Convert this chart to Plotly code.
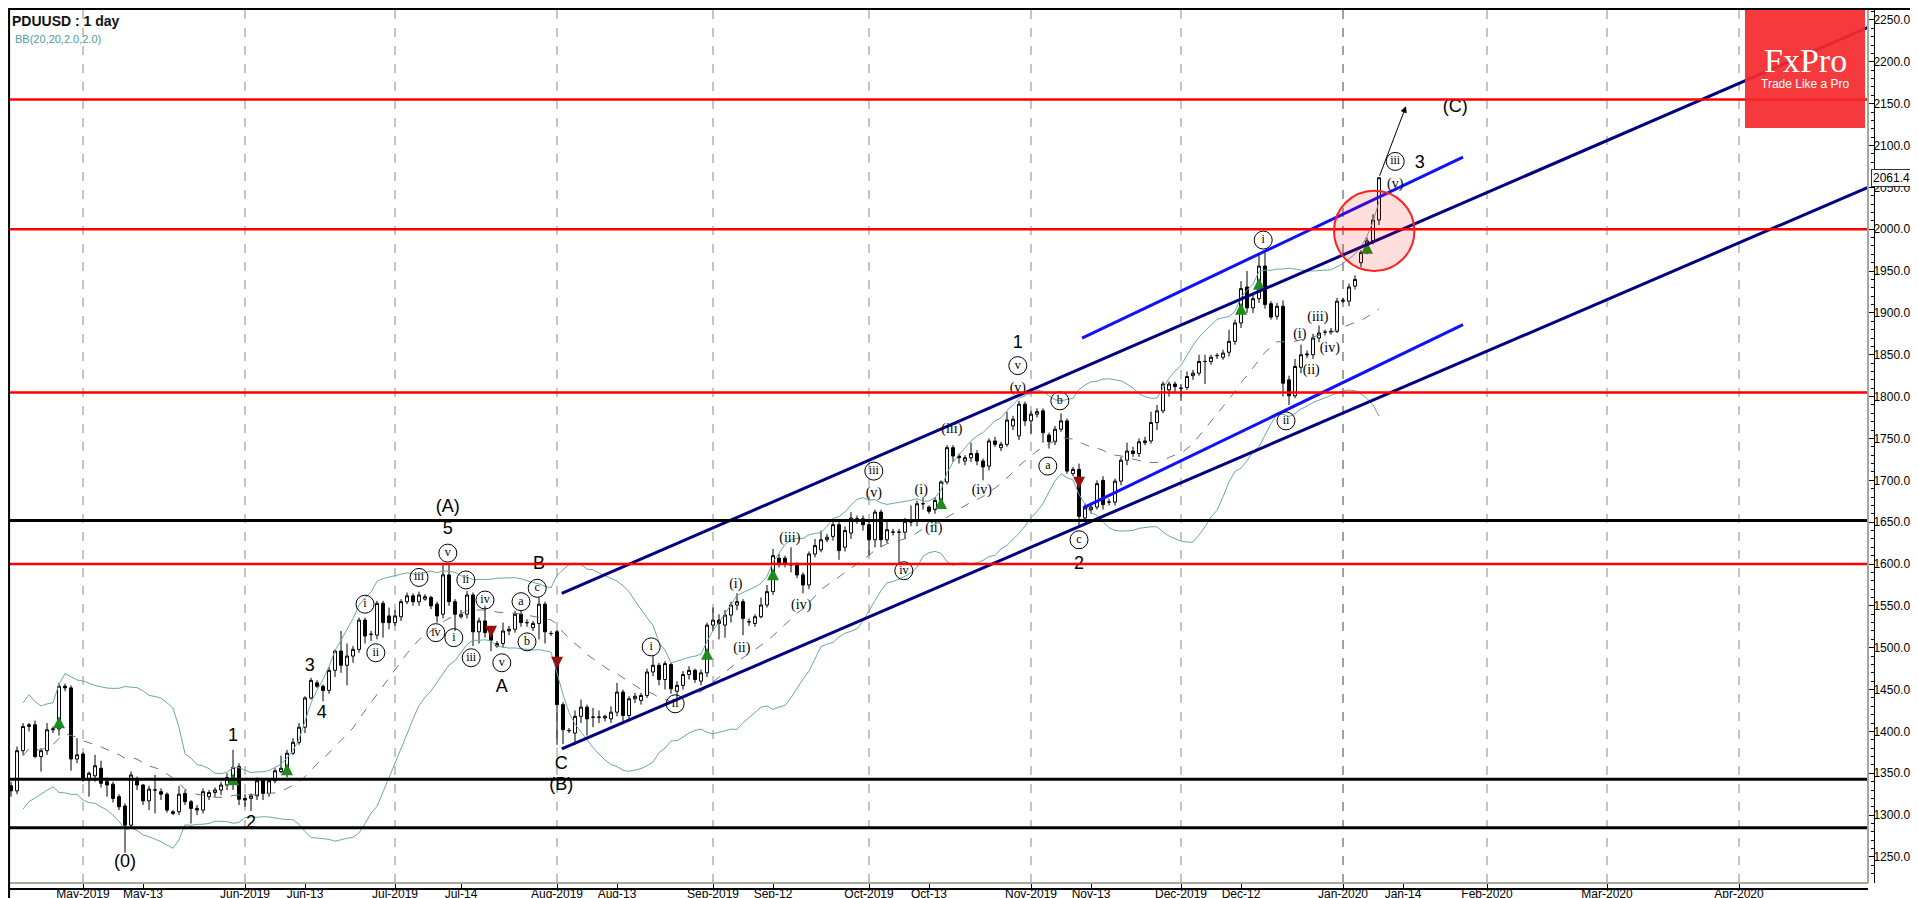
import pandas as pd
import numpy as np
import plotly.graph_objects as go

# ---------------- data ----------------
symbol_title = "PDUUSD : 1 day"
indicator_title = "BB(20,20,2.0,2.0)"
first_session = "2019-04-17"
last_session = "2020-01-09"
future_end = "2020-04-30"

opens = [1335,1329,1377,1406,1408,1370,1377,1402,1403,1454,
         1452,1367,1373,1342,1347,1356,1340,1337,1322,1311,
         1288,1341,1336,1317,1330,1328,1325,1304,1304,1326,
         1316,1308,1306,1322,1327,1330,1336,1345,1358,1320,
         1320,1323,1341,1326,1341,1352,1356,1374,1387,1405,
         1440,1458,1454,1449,1473,1496,1479,1490,1498,1533,
         1516,1515,1553,1538,1530,1537,1555,1562,1555,1558,
         1560,1552,1540,1587,1555,1537,1540,1563,1519,1532,
         1517,1502,1505,1520,1522,1540,1530,1524,1529,1552,
         1517,1519,1432,1401,1398,1418,1429,1417,1417,1416,
         1415,1423,1447,1419,1439,1437,1443,1471,1479,1462,
         1480,1448,1455,1468,1473,1460,1470,1527,1533,1527,
         1539,1551,1555,1531,1529,1537,1551,1567,1607,1607,
         1600,1599,1587,1575,1612,1617,1629,1633,1647,1620,
         1637,1654,1654,1647,1629,1662,1629,1638,1638,1638,
         1650,1651,1672,1668,1665,1676,1698,1739,1729,1723,
         1727,1732,1723,1717,1747,1739,1743,1765,1753,1791,
         1771,1779,1783,1754,1746,1761,1771,1708,1713,1655,
         1665,1668,1700,1674,1674,1699,1724,1735,1732,1745,
         1747,1769,1783,1808,1815,1810,1811,1825,1828,1842,
         1842,1849,1847,1853,1866,1888,1931,1906,1917,1956,
         1911,1896,1908,1820,1801,1835,1851,1850,1870,1877,
         1877,1878,1914,1914,1932,1960,1972,1986,2011]
highs = [1340,1382,1410,1410,1413,1380,1410,1406,1458,1457,
         1455,1392,1375,1352,1372,1365,1345,1340,1325,1314,
         1352,1346,1337,1335,1348,1332,1327,1306,1335,1330,
         1318,1312,1332,1330,1333,1340,1350,1378,1362,1325,
         1326,1345,1344,1344,1356,1371,1378,1392,1410,1442,
         1464,1461,1456,1477,1498,1520,1505,1502,1536,1536,
         1520,1556,1556,1548,1545,1558,1566,1565,1567,1564,
         1562,1555,1599,1599,1558,1545,1568,1566,1536,1550,
         1520,1508,1530,1526,1544,1544,1534,1532,1560,1555,
         1520,1521,1435,1404,1425,1438,1432,1428,1425,1420,
         1430,1458,1450,1442,1446,1446,1475,1490,1482,1484,
         1482,1460,1472,1478,1475,1474,1530,1548,1540,1545,
         1555,1565,1558,1535,1540,1560,1575,1618,1612,1610,
         1620,1602,1590,1615,1630,1640,1636,1650,1650,1645,
         1662,1658,1658,1650,1665,1665,1650,1642,1642,1655,
         1670,1676,1680,1670,1680,1700,1742,1742,1732,1730,
         1745,1736,1726,1750,1752,1746,1782,1777,1795,1794,
         1783,1786,1786,1757,1765,1780,1774,1716,1720,1672,
         1672,1700,1705,1678,1702,1728,1745,1740,1750,1752,
         1782,1790,1818,1818,1818,1815,1830,1832,1850,1850,
         1850,1852,1856,1880,1892,1938,1950,1922,1970,1972,
         1914,1912,1915,1825,1845,1862,1855,1875,1885,1880,
         1882,1918,1918,1935,1945,1975,1990,2018,2062]
lows = [1322,1325,1372,1400,1368,1352,1372,1398,1395,1448,
        1353,1362,1340,1322,1340,1333,1322,1315,1306,1255,
        1285,1330,1312,1306,1302,1318,1303,1300,1300,1312,
        1290,1300,1302,1318,1322,1324,1330,1330,1312,1310,
        1305,1318,1318,1322,1338,1350,1345,1372,1384,1398,
        1438,1452,1436,1445,1465,1470,1455,1482,1494,1505,
        1508,1510,1512,1522,1526,1532,1552,1550,1550,1556,
        1546,1530,1535,1550,1520,1535,1535,1502,1505,1512,
        1496,1500,1500,1515,1518,1525,1525,1520,1510,1505,
        1514,1384,1385,1398,1384,1410,1395,1405,1410,1412,
        1410,1418,1410,1412,1434,1432,1440,1466,1455,1450,
        1445,1440,1450,1462,1458,1455,1465,1520,1510,1512,
        1530,1545,1515,1526,1525,1535,1548,1563,1596,1596,
        1590,1583,1565,1570,1608,1614,1626,1628,1605,1615,
        1630,1648,1640,1610,1620,1620,1625,1634,1601,1630,
        1645,1645,1665,1660,1660,1672,1695,1722,1720,1718,
        1722,1718,1700,1712,1740,1735,1740,1760,1748,1765,
        1755,1775,1745,1738,1742,1758,1708,1705,1645,1650,
        1660,1665,1665,1670,1670,1694,1718,1728,1728,1742,
        1744,1760,1780,1800,1805,1795,1808,1820,1825,1815,
        1838,1845,1844,1848,1862,1882,1900,1900,1912,1905,
        1892,1892,1800,1790,1798,1828,1846,1845,1865,1873,
        1874,1876,1912,1908,1928,1955,1970,1982,2005]
closes = [1329,1377,1406,1408,1370,1377,1402,1403,1454,1452,
          1367,1372,1342,1350,1359,1338,1336,1320,1310,1288,
          1348,1336,1317,1331,1330,1325,1306,1302,1325,1316,
          1308,1306,1328,1327,1330,1336,1345,1357,1319,1318,
          1323,1341,1326,1341,1353,1356,1374,1387,1405,1440,
          1461,1454,1449,1473,1496,1479,1490,1498,1533,1514,
          1516,1553,1530,1530,1538,1555,1562,1555,1563,1561,
          1550,1538,1587,1555,1540,1540,1563,1519,1532,1518,
          1509,1505,1520,1522,1540,1530,1530,1529,1552,1519,
          1517,1432,1402,1401,1418,1429,1415,1417,1417,1418,
          1423,1447,1419,1439,1442,1443,1471,1479,1462,1481,
          1451,1455,1468,1473,1462,1470,1527,1533,1529,1539,
          1551,1555,1535,1531,1537,1551,1567,1610,1600,1600,
          1599,1587,1575,1612,1622,1629,1632,1647,1616,1640,
          1655,1654,1647,1629,1662,1629,1641,1638,1638,1651,
          1652,1672,1672,1663,1676,1698,1739,1729,1727,1727,
          1732,1723,1716,1747,1743,1743,1772,1773,1791,1771,
          1779,1782,1757,1746,1761,1771,1711,1713,1657,1667,
          1668,1696,1671,1674,1699,1724,1735,1732,1746,1747,
          1769,1783,1815,1815,1812,1810,1824,1828,1842,1842,
          1847,1849,1852,1866,1888,1929,1906,1917,1956,1910,
          1895,1908,1816,1801,1836,1850,1850,1870,1876,1877,
          1878,1914,1915,1931,1940,1972,1986,2011,2061.49]

# horizontal support / resistance levels
red_levels = [2155, 2000, 1805, 1600]
black_levels = [1652, 1343, 1285]

# channel lines (session index, price)
navy_upper_x = [91.8, 309.5]
navy_upper_y = [1565, 2241]
navy_lower_x = [91.8, 309.5]
navy_lower_y = [1379, 2050]
blue_upper_x = [178.5, 242]
blue_upper_y = [1870, 2086]
blue_lower_x = [178.7, 242]
blue_lower_y = [1667, 1886]

# signal arrows
buy_idx = [8, 37, 46, 116, 127, 155, 205, 208, 226]
buy_val = [1418, 1350, 1362, 1500, 1595, 1680, 1912, 1942, 1985]
sell_idx = [80, 91, 178]
sell_val = [1512, 1475, 1690]

# wave labels
big_x = [37, 40, 19, 72.8, 72.8, 49.8, 51.8, 81.8, 88, 91.7, 91.7, 167.8, 178, 234.8, 240.7]
big_y = [1394, 1290, 1243, 1668, 1641, 1477, 1422, 1453, 1599, 1361, 1335, 1864, 1600, 2079, 2145]
big_t = ["1", "2", "(0)", "(A)", "5", "3", "4", "A", "B", "C", "(B)", "1", "2", "3", "(C)"]

circ_x = [59, 60.8, 68, 70.8, 72.8, 73.8, 75.8, 76.7, 79, 81.8, 85, 86, 87.7,
          106.7, 110.7, 143.8, 148.8, 167.8, 174.8, 172.8, 178, 208.7, 212.5, 230.7]
circ_y = [1552, 1494, 1584, 1518, 1613, 1512, 1581, 1488, 1557, 1482, 1555, 1507, 1571,
          1501, 1433, 1711, 1592, 1837, 1795, 1717, 1629, 1987, 1771, 2081]
circ_t = ["i", "ii", "iii", "iv", "v", "i", "ii", "iii", "iv", "v", "a", "b", "c",
          "i", "ii", "iii", "iv", "v", "b", "a", "c", "i", "ii", "iii"]

par_x = [120.8, 121.8, 129.8, 131.7, 143.8, 151.7, 153.8, 156.8, 161.8, 167.8,
         214.8, 216.7, 217.8, 219.8, 230.7]
par_y = [1575, 1499, 1631, 1550, 1684, 1688, 1643, 1761, 1688, 1810,
         1874, 1831, 1894, 1858, 2053]
par_t = ["(i)", "(ii)", "(iii)", "(iv)", "(v)", "(i)", "(ii)", "(iii)", "(iv)", "(v)",
         "(i)", "(ii)", "(iii)", "(iv)", "(v)"]

# projection arrow and highlight circle (session index, price)
proj_from = (228, 2062)
proj_to = (232.5, 2147)
circle_box = (220.5, 1950, 233.9, 2046)

month_ticks = ["2019-05", "2019-06", "2019-07", "2019-08", "2019-09", "2019-10",
               "2019-11", "2019-12", "2020-01", "2020-02", "2020-03", "2020-04"]
day_ticks = ["2019-05-13", "2019-06-13", "2019-07-14", "2019-08-13", "2019-09-12",
             "2019-10-13", "2019-11-13", "2019-12-12", "2020-01-14"]
y_ticks = list(range(1250, 2251, 50))

# ---------------- session calendar ----------------
hist = [d for d in pd.date_range(first_session, last_session)
        if d.weekday() != 5 and d != pd.Timestamp("2020-01-01")]
future = [d for d in pd.date_range(pd.Timestamp(last_session) + pd.Timedelta(days=1), future_end)
          if d.weekday() < 5 or d == pd.Timestamp("2020-01-12")]
calendar = hist + future
xi = list(range(len(closes)))


def first_in_month(m):
    for i, d in enumerate(calendar):
        if d.strftime("%Y-%m") == m:
            return i


pos_of = {d.strftime("%Y-%m-%d"): i for i, d in enumerate(calendar)}
month_pos = [first_in_month(m) for m in month_ticks]
month_lab = [calendar[p].strftime("%b-%Y") for p in month_pos]
day_pos = [pos_of[d] for d in day_ticks]
day_lab = [pd.Timestamp(d).strftime("%b-%d") for d in day_ticks]
tickvals = month_pos + day_pos
ticktext = month_lab + day_lab

# Bollinger bands
s = pd.Series(closes, dtype=float)
mid = s.rolling(20, min_periods=3).mean()
sd = s.rolling(20, min_periods=3).std(ddof=0)
bb_up = mid + 2 * sd
bb_dn = mid - 2 * sd

# ---------------- figure ----------------
fig = go.Figure()
bbcol = "#6aa8a8"
fig.add_trace(go.Scatter(x=xi, y=bb_up, mode="lines", line=dict(color=bbcol, width=1), hoverinfo="skip"))
fig.add_trace(go.Scatter(x=xi, y=bb_dn, mode="lines", line=dict(color=bbcol, width=1), hoverinfo="skip"))
fig.add_trace(go.Scatter(x=xi, y=mid, mode="lines", line=dict(color="#5e7f7f", width=1, dash="dash"), hoverinfo="skip"))

fig.add_trace(go.Candlestick(
    x=xi, open=opens, high=highs, low=lows, close=closes,
    increasing=dict(line=dict(color="black", width=1), fillcolor="white"),
    decreasing=dict(line=dict(color="black", width=1), fillcolor="black"),
    whiskerwidth=0))

fig.add_trace(go.Scatter(x=buy_idx, y=buy_val, mode="markers",
                         marker=dict(symbol="arrow-up", size=12, color="#1c8c1c"), hoverinfo="skip"))
fig.add_trace(go.Scatter(x=sell_idx, y=sell_val, mode="markers",
                         marker=dict(symbol="arrow-down", size=12, color="#9a1010"), hoverinfo="skip"))

navy = "#000080"
blue = "#1010ff"
for xs, ys, col in [(navy_upper_x, navy_upper_y, navy), (navy_lower_x, navy_lower_y, navy),
                    (blue_upper_x, blue_upper_y, blue), (blue_lower_x, blue_lower_y, blue)]:
    fig.add_trace(go.Scatter(x=xs, y=ys, mode="lines", line=dict(color=col, width=3), hoverinfo="skip"))

fig.add_trace(go.Scatter(x=big_x, y=big_y, text=big_t, mode="text",
                         textfont=dict(family="Liberation Sans, Arial", size=18, color="black"),
                         textposition="middle center", hoverinfo="skip"))
fig.add_trace(go.Scatter(x=circ_x, y=circ_y, text=circ_t, mode="markers+text",
                         marker=dict(symbol="circle-open", size=18, color="black", line=dict(width=1)),
                         textfont=dict(family="Liberation Serif, Times New Roman", size=12, color="black"),
                         textposition="middle center", hoverinfo="skip"))
fig.add_trace(go.Scatter(x=par_x, y=par_y, text=par_t, mode="text",
                         textfont=dict(family="Liberation Serif, Times New Roman", size=14, color="black"),
                         textposition="middle center", hoverinfo="skip"))

shapes = []
for i, p in enumerate(month_pos):
    shapes.append(dict(type="line", xref="x", yref="y domain", x0=p, x1=p, y0=0, y1=1,
                       line=dict(color="#444" if month_ticks[i] == "2020-01" else "#8a8a8a", width=1, dash="dash"),
                       layer="below"))
for v in red_levels:
    shapes.append(dict(type="line", xref="x domain", yref="y", x0=0, x1=1, y0=v, y1=v,
                       line=dict(color="#ff0000", width=2.5)))
for v in black_levels:
    shapes.append(dict(type="line", xref="x domain", yref="y", x0=0, x1=1, y0=v, y1=v,
                       line=dict(color="black", width=3)))
cx0, cy0, cx1, cy1 = circle_box
shapes.append(dict(type="circle", xref="x", yref="y", x0=cx0, x1=cx1, y0=cy0, y1=cy1,
                   line=dict(color="#ff2020", width=2), fillcolor="rgba(255,0,0,0.13)"))
# plot frame (grey right & bottom)
shapes.append(dict(type="line", xref="x domain", yref="y domain", x0=1, x1=1, y0=0, y1=1,
                   line=dict(color="#a8a89a", width=2)))
shapes.append(dict(type="line", xref="x domain", yref="y domain", x0=0, x1=1, y0=0, y1=0,
                   line=dict(color="#a8a89a", width=2)))
# logo box
shapes.append(dict(type="rect", xref="paper", yref="paper", x0=0.9308, x1=0.9952, y0=0.8658, y1=1.003,
                   fillcolor="#f42a2e", line=dict(width=0), opacity=0.93, layer="above"))
# outer figure frame
shapes.append(dict(type="rect", xref="paper", yref="paper", x0=-0.0005, x1=1.0274, y0=-0.0182, y1=1.0011,
                   line=dict(color="black", width=2), fillcolor="rgba(0,0,0,0)"))

annotations = [
    dict(xref="paper", yref="paper", x=0.0, y=0.9875, xanchor="left", yanchor="middle",
         text="<b>" + symbol_title + "</b>", showarrow=False,
         font=dict(family="Liberation Sans, Arial", size=14, color="#111")),
    dict(xref="paper", yref="paper", x=0.0018, y=0.967, xanchor="left", yanchor="middle",
         text=indicator_title, showarrow=False,
         font=dict(family="Liberation Sans, Arial", size=11, color="#4f9c9c")),
    dict(xref="paper", yref="y", x=1.0, y=closes[-1], xanchor="left", yanchor="middle",
         text=f"{closes[-1]:.2f}", showarrow=False, bgcolor="white", bordercolor="#333",
         borderwidth=1, borderpad=1, xshift=-3, font=dict(family="Liberation Sans, Arial", size=12, color="black")),
    dict(xref="x", yref="y", x=proj_to[0], y=proj_to[1], ax=proj_from[0], ay=proj_from[1],
         axref="x", ayref="y", showarrow=True, arrowhead=2, arrowsize=1.3, arrowwidth=1,
         arrowcolor="black", text=""),
    dict(xref="paper", yref="paper", x=0.963, y=0.942, xanchor="center", yanchor="middle",
         text="FxPro", showarrow=False,
         font=dict(family="Liberation Serif, Times New Roman", size=34, color="white")),
    dict(xref="paper", yref="paper", x=0.963, y=0.9158, xanchor="center", yanchor="middle",
         text="Trade Like a Pro", showarrow=False,
         font=dict(family="Liberation Sans, Arial", size=12, color="white")),
]

fig.update_layout(
    width=1918, height=898,
    margin=dict(l=2, r=52, t=2, b=17),
    paper_bgcolor="white", plot_bgcolor="white",
    showlegend=False,
    shapes=shapes, annotations=annotations,
    xaxis=dict(domain=[0, 1858 / 1864], range=[-0.17, 309.5], anchor="free", position=0,
               tickvals=tickvals, ticktext=ticktext, ticks="inside", ticklen=6, tickcolor="black",
               ticklabelstandoff=-6,
               showgrid=False, zeroline=False, showline=True, linecolor="black", linewidth=2,
               tickfont=dict(family="Liberation Sans, Arial", size=12, color="black"),
               rangeslider=dict(visible=False), fixedrange=True),
    yaxis=dict(domain=[6 / 879, 1], range=[1218.9, 2261.9], side="right", anchor="free", position=1,
               tickvals=y_ticks, tickformat=".2f", ticks="inside", ticklen=7, tickcolor="black",
               ticklabelstandoff=-4,
               minor=dict(dtick=10, ticks="inside", ticklen=3, tickcolor="black"),
               showgrid=False, zeroline=False, showline=True, linecolor="black", linewidth=1,
               tickfont=dict(family="Liberation Sans, Arial", size=12, color="black"), fixedrange=True),
)

fig.write_html("out.html")
